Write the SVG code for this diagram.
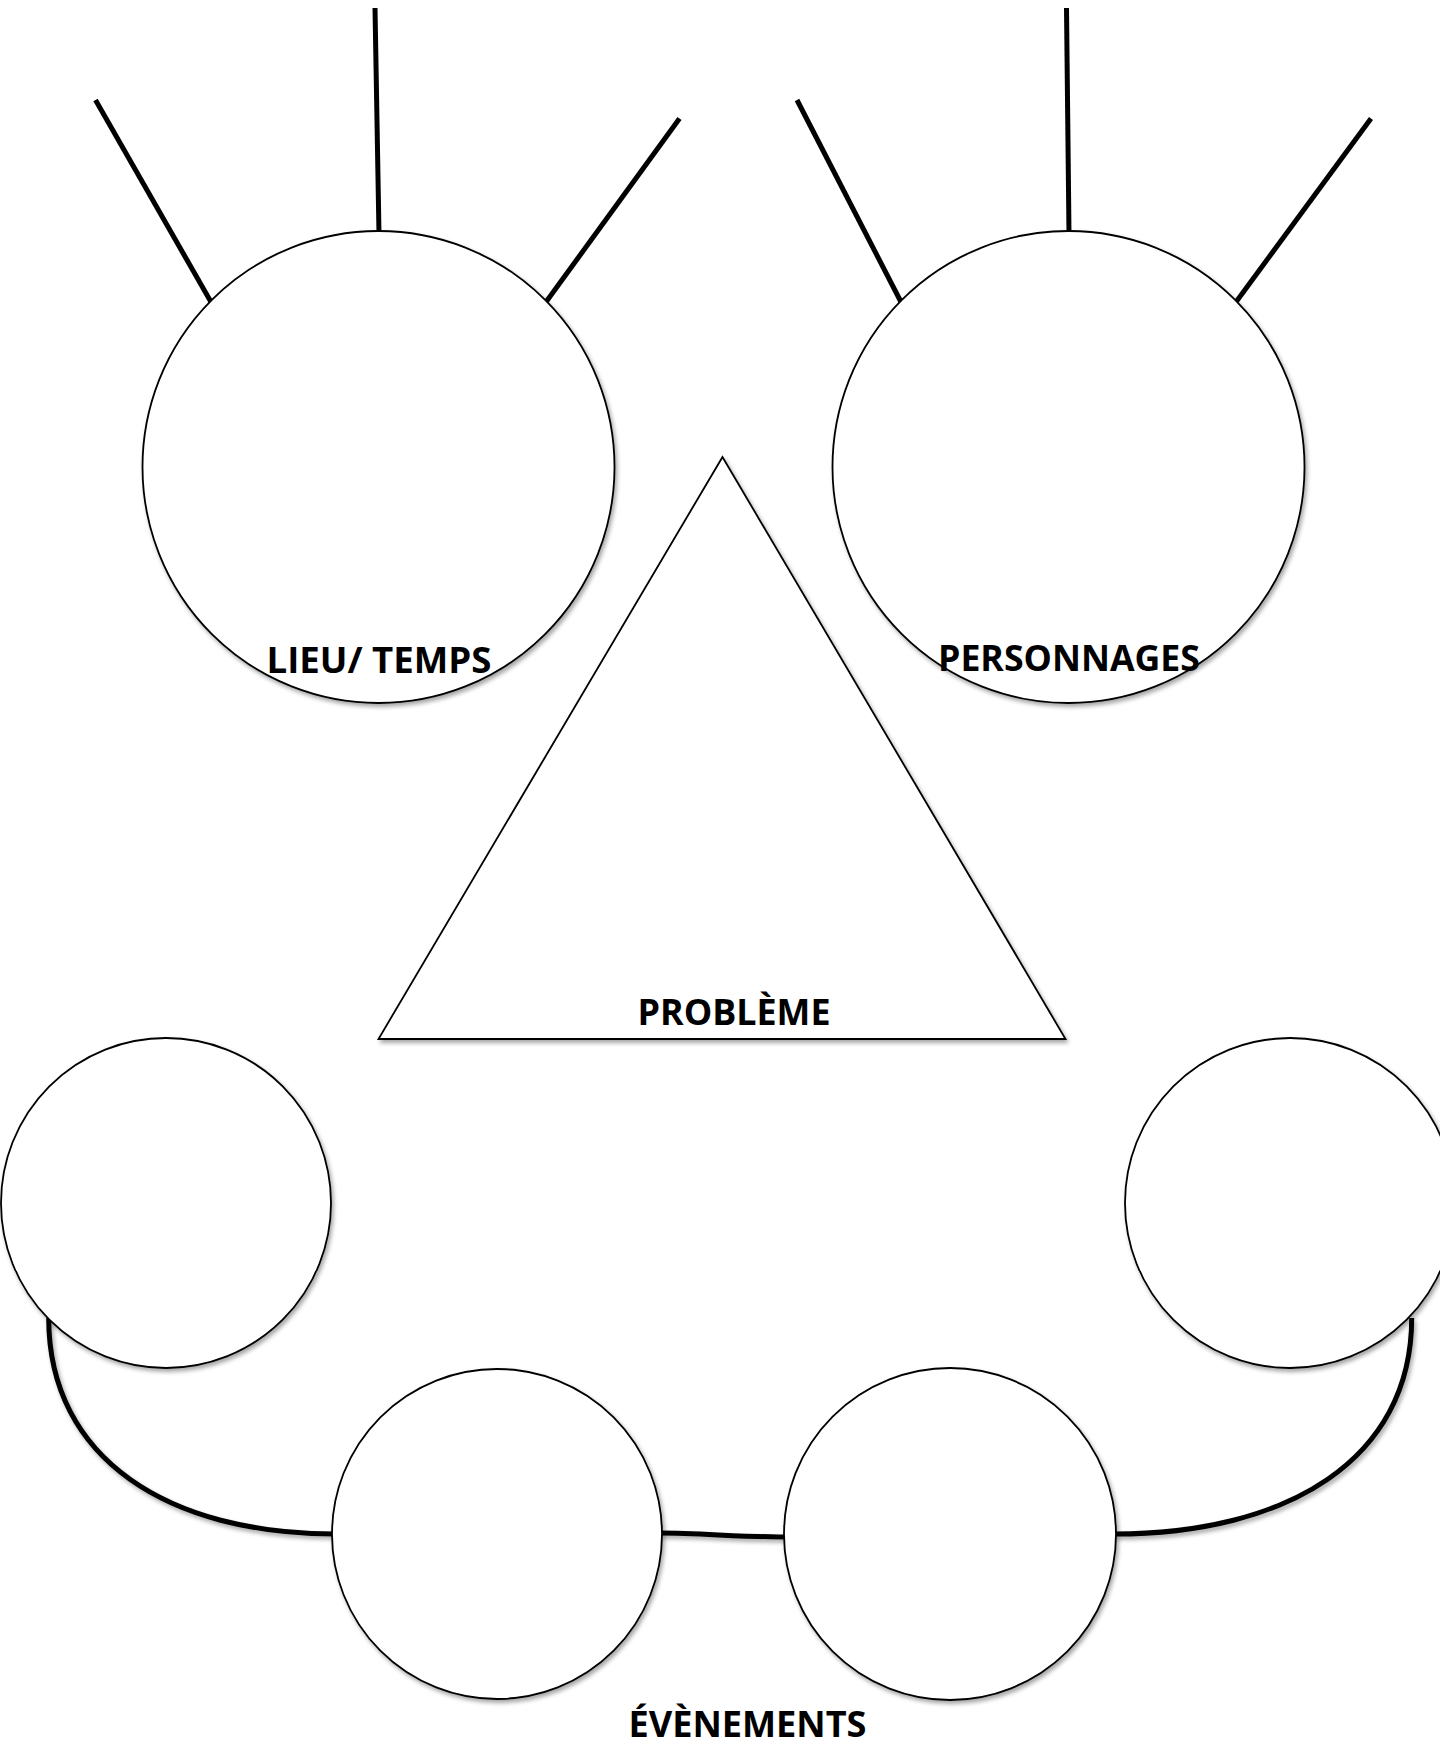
<svg xmlns="http://www.w3.org/2000/svg" width="1440" height="1748" viewBox="0 0 1440 1748">
  <defs>
    <filter id="sh" x="-10%" y="-10%" width="130%" height="130%">
      <feDropShadow dx="2" dy="3" stdDeviation="2" flood-color="#000" flood-opacity="0.35"/>
    </filter>
    <filter id="lsh" filterUnits="userSpaceOnUse" x="0" y="0" width="1440" height="1748">
      <feDropShadow dx="2" dy="3" stdDeviation="2" flood-color="#000" flood-opacity="0.35"/>
    </filter>
    <style>
      .shape { fill: #fff; stroke: #000; stroke-width: 1.8; filter: url(#sh); }
      .ray { stroke: #000; stroke-width: 5; fill: none; }
      .link { stroke: #000; stroke-width: 5; fill: none; filter: url(#lsh); }
      .label { font-family: "Open Sans", "Liberation Sans", Arial, sans-serif; font-weight: bold; font-size: 35px; fill: #000; }
    </style>
  </defs>
  <rect width="1440" height="1748" fill="#fff"/>

  <g id="connectors">
    <line class="ray" x1="375" y1="8" x2="379" y2="234"/>
    <line class="ray" x1="95.5" y1="100" x2="211" y2="302"/>
    <line class="ray" x1="679.5" y1="118.5" x2="546" y2="302"/>
    <line class="ray" x1="1066.5" y1="8" x2="1069" y2="234"/>
    <line class="ray" x1="797" y1="100" x2="901" y2="302"/>
    <line class="ray" x1="1371" y1="118.5" x2="1236" y2="302"/>
    <path class="link" d="M48.7,1318 C48.7,1460 170,1534 335,1534"/>
    <path class="link" d="M660,1533 C700,1533 740,1537 786,1537"/>
    <path class="link" d="M1411.7,1318 C1411.7,1460 1287,1534 1114,1534"/>
  </g>

  <g id="node-lieu-temps">
    <circle class="shape" cx="378.5" cy="467" r="236"/>
    <text class="label" x="266.5" y="673" textLength="225" lengthAdjust="spacingAndGlyphs">LIEU/ TEMPS</text>
  </g>

  <g id="node-personnages">
    <circle class="shape" cx="1068.5" cy="467" r="236"/>
    <text class="label" x="938" y="671" textLength="262" lengthAdjust="spacingAndGlyphs">PERSONNAGES</text>
  </g>

  <g id="node-probleme">
    <polygon class="shape" points="722.5,457 378.5,1039 1065.5,1039"/>
    <text class="label" x="637.5" y="1025" textLength="193" lengthAdjust="spacingAndGlyphs">PROBLÈME</text>
  </g>

  <g id="node-evenement-1">
    <circle class="shape" cx="166" cy="1203" r="165"/>
  </g>
  <g id="node-evenement-2">
    <circle class="shape" cx="497" cy="1534" r="165"/>
  </g>
  <g id="node-evenement-3">
    <circle class="shape" cx="950" cy="1534" r="166"/>
  </g>
  <g id="node-evenement-4">
    <circle class="shape" cx="1290" cy="1203" r="165"/>
  </g>

  <g id="label-evenements">
    <text class="label" x="628.5" y="1737" textLength="238" lengthAdjust="spacingAndGlyphs">ÉVÈNEMENTS</text>
  </g>
</svg>
